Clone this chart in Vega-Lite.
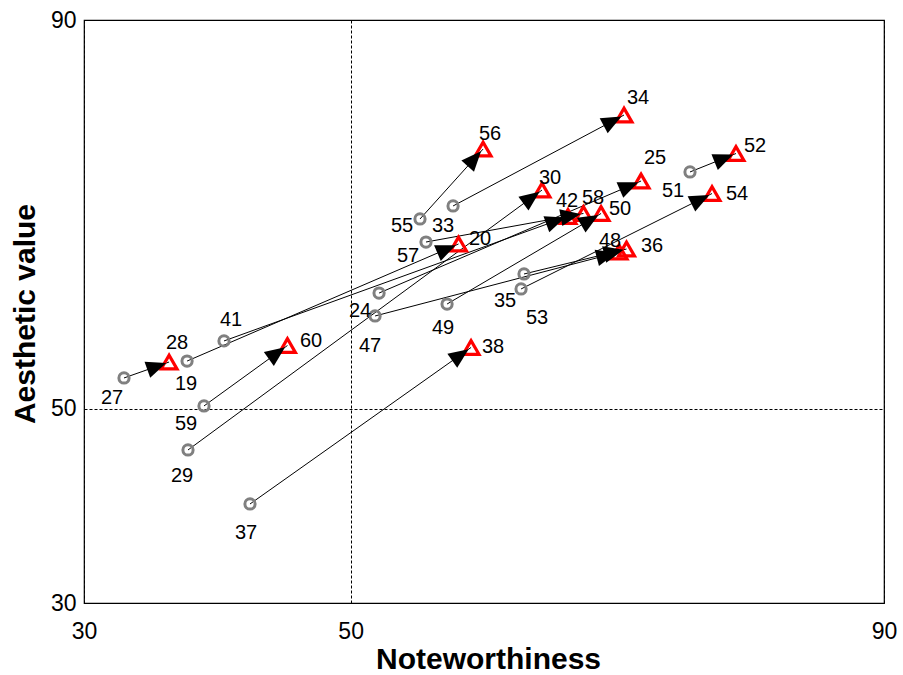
{
  "$schema": "https://vega.github.io/schema/vega-lite/v6.json",
  "width": 800,
  "height": 583,
  "autosize": {"type": "none"},
  "padding": {"left": 84, "top": 20, "right": 19, "bottom": 72},
  "background": "white",
  "config": {
    "view": {"stroke": "black", "strokeWidth": 1.2},
    "font": "Liberation Sans",
    "axis": {
      "grid": true, "gridColor": "black", "gridDash": [3, 2], "gridWidth": 1, "gridOpacity": 1,
      "ticks": false, "tickSize": 0, "domain": false,
      "labelFont": "Liberation Sans", "labelFontSize": 23, "labelColor": "black", "labelFlush": false,
      "titleFont": "Liberation Sans", "titleFontSize": 30, "titleFontWeight": "bold", "titleColor": "black"
    }
  },
  "datasets": {
    "pairs": [
      {"s": "27", "e": "28", "sx": 33.0, "sy": 53.16, "ex": 36.38, "ey": 54.8},
      {"s": "59", "e": "60", "sx": 39.0, "sy": 50.28, "ex": 45.26, "ey": 56.5},
      {"s": "37", "e": "38", "sx": 42.45, "sy": 40.19, "ex": 59.03, "ey": 56.3},
      {"s": "55", "e": "56", "sx": 55.2, "sy": 69.52, "ex": 59.93, "ey": 76.72},
      {"s": "33", "e": "34", "sx": 57.68, "sy": 70.86, "ex": 70.5, "ey": 80.22},
      {"s": "51", "e": "52", "sx": 75.45, "sy": 74.36, "ex": 78.9, "ey": 76.26},
      {"s": "29", "e": "30", "sx": 37.8, "sy": 45.75, "ex": 64.35, "ey": 72.5},
      {"s": "19", "e": "20", "sx": 37.73, "sy": 54.9, "ex": 58.09, "ey": 66.95},
      {"s": "41", "e": "42", "sx": 40.5, "sy": 56.97, "ex": 66.3, "ey": 69.78},
      {"s": "57", "e": "58", "sx": 55.65, "sy": 67.15, "ex": 67.46, "ey": 70.09},
      {"s": "49", "e": "50", "sx": 57.23, "sy": 60.77, "ex": 68.78, "ey": 70.09},
      {"s": "47", "e": "48", "sx": 51.83, "sy": 59.54, "ex": 70.13, "ey": 66.12},
      {"s": "35", "e": "36", "sx": 63.0, "sy": 63.86, "ex": 70.69, "ey": 66.43},
      {"s": "53", "e": "54", "sx": 62.78, "sy": 62.32, "ex": 77.1, "ey": 72.14},
      {"s": "24", "e": "25", "sx": 52.13, "sy": 61.9, "ex": 71.78, "ey": 73.43}
    ],
    "labels": [
      {"label": "27", "lx": 32.1, "ly": 51.2},
      {"label": "28", "lx": 36.98, "ly": 56.86},
      {"label": "19", "lx": 37.65, "ly": 52.64},
      {"label": "41", "lx": 41.03, "ly": 59.23},
      {"label": "60", "lx": 47.03, "ly": 57.07},
      {"label": "59", "lx": 37.65, "ly": 48.53},
      {"label": "29", "lx": 37.35, "ly": 43.17},
      {"label": "37", "lx": 42.15, "ly": 37.31},
      {"label": "24", "lx": 50.7, "ly": 60.16},
      {"label": "47", "lx": 51.45, "ly": 56.55},
      {"label": "49", "lx": 56.93, "ly": 58.41},
      {"label": "35", "lx": 61.58, "ly": 61.18},
      {"label": "53", "lx": 63.98, "ly": 59.43},
      {"label": "38", "lx": 60.68, "ly": 56.45},
      {"label": "57", "lx": 54.3, "ly": 65.82},
      {"label": "55", "lx": 53.85, "ly": 68.9},
      {"label": "33", "lx": 56.93, "ly": 68.9},
      {"label": "20", "lx": 59.7, "ly": 67.57},
      {"label": "56", "lx": 60.45, "ly": 78.37},
      {"label": "34", "lx": 71.55, "ly": 82.08},
      {"label": "30", "lx": 64.95, "ly": 73.84},
      {"label": "25", "lx": 72.83, "ly": 75.9},
      {"label": "42", "lx": 66.23, "ly": 71.48},
      {"label": "58", "lx": 68.18, "ly": 71.78},
      {"label": "50", "lx": 70.2, "ly": 70.65},
      {"label": "48", "lx": 69.45, "ly": 67.36},
      {"label": "36", "lx": 72.6, "ly": 66.84},
      {"label": "51", "lx": 74.18, "ly": 72.5},
      {"label": "52", "lx": 80.33, "ly": 77.14},
      {"label": "54", "lx": 78.98, "ly": 72.2}
    ]
  },
  "layer": [
    {
      "data": {"name": "pairs"},
      "mark": {"type": "rule", "color": "black", "strokeWidth": 1},
      "encoding": {
        "x": {"field": "sx", "type": "quantitative",
          "scale": {"domain": [30, 90], "nice": false, "zero": false},
          "axis": {"values": [30, 50, 90], "title": "Noteworthiness", "labelPadding": 17,
            "titleX": 404, "titleY": 65, "titleBaseline": "alphabetic", "titleAlign": "center"}},
        "x2": {"field": "ex"},
        "y": {"field": "sy", "type": "quantitative",
          "scale": {"domain": [30, 90], "nice": false, "zero": false},
          "axis": {"values": [30, 50, 90], "title": "Aesthetic value", "labelPadding": 8,
            "titleX": -50, "titleY": 293.5, "titleAngle": -90, "titleBaseline": "alphabetic", "titleAlign": "center"}},
        "y2": {"field": "ey"}
      }
    },
    {
      "data": {"name": "pairs"},
      "mark": {"type": "point", "shape": "circle", "filled": false, "stroke": "#808080", "strokeWidth": 3, "size": 105, "opacity": 1},
      "encoding": {
        "x": {"field": "sx", "type": "quantitative", "scale": {"domain": [30, 90], "nice": false, "zero": false}},
        "y": {"field": "sy", "type": "quantitative", "scale": {"domain": [30, 90], "nice": false, "zero": false}}
      }
    },
    {
      "data": {"name": "pairs"},
      "mark": {"type": "point", "shape": "triangle-up", "filled": false, "stroke": "#ff0000", "strokeWidth": 3.2, "size": 250, "opacity": 1},
      "encoding": {
        "x": {"field": "ex", "type": "quantitative", "scale": {"domain": [30, 90], "nice": false, "zero": false}},
        "y": {"field": "ey", "type": "quantitative", "scale": {"domain": [30, 90], "nice": false, "zero": false}}
      }
    },
    {
      "data": {"name": "pairs"},
      "mark": {"type": "point", "shape": "M-0.3,0L-2.3,-0.85L-2.3,0.85Z", "filled": true, "fill": "black", "strokeWidth": 0, "size": 400, "opacity": 1,
        "angle": {"expr": "atan2(-(datum.ey - datum.sy) * 583 / 60, (datum.ex - datum.sx) * 800 / 60) * 180 / PI"}},
      "encoding": {
        "x": {"field": "ex", "type": "quantitative", "scale": {"domain": [30, 90], "nice": false, "zero": false}},
        "y": {"field": "ey", "type": "quantitative", "scale": {"domain": [30, 90], "nice": false, "zero": false}}
      }
    },
    {
      "data": {"name": "labels"},
      "mark": {"type": "text", "font": "Liberation Sans", "fontSize": 20, "color": "black", "align": "center", "baseline": "middle", "dy": 1},
      "encoding": {
        "x": {"field": "lx", "type": "quantitative", "scale": {"domain": [30, 90], "nice": false, "zero": false}},
        "y": {"field": "ly", "type": "quantitative", "scale": {"domain": [30, 90], "nice": false, "zero": false}},
        "text": {"field": "label"}
      }
    }
  ]
}
